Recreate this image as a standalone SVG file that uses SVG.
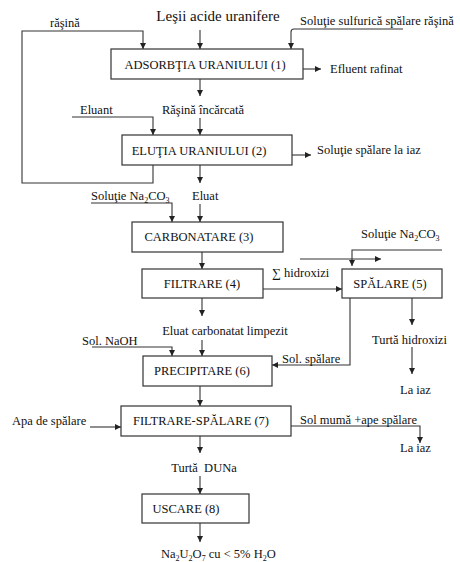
<svg xmlns="http://www.w3.org/2000/svg" width="460" height="562" viewBox="0 0 460 562">
<style>
text{font-family:"Liberation Serif","Times New Roman",serif;font-size:12.5px;fill:#111}
.t{font-size:15px}
.c{text-anchor:middle}
.box{fill:#fff;stroke:#333;stroke-width:1.2}
.ln{fill:none;stroke:#333;stroke-width:1.1;marker-end:url(#ah)}
.pl{fill:none;stroke:#333;stroke-width:1.1}
</style>
<defs>
<marker id="ah" viewBox="0 0 8 8" refX="8" refY="4" markerWidth="7" markerHeight="6" markerUnits="userSpaceOnUse" orient="auto">
<path d="M0,0 L8,4 L0,8 z" fill="#222"/>
</marker>
</defs>
<rect width="460" height="562" fill="#fff"/>
<g id="connectors">
<path class="ln" d="M200,30 V49"/>
<path class="ln" d="M153,165 V183 H22 V31 H143 V49"/>
<path class="ln" d="M403,29 H294 Q291,29 291,32 V49"/>
<path class="ln" d="M303,69 H321"/>
<path class="ln" d="M200,79 V96"/>
<path class="ln" d="M200,118 V135"/>
<path class="ln" d="M72,117 H153 V135"/>
<path class="ln" d="M292,155 H311"/>
<path class="ln" d="M200,165 V183"/>
<path class="ln" d="M91,203 H172 V222"/>
<path class="ln" d="M200,204 V222"/>
<path class="ln" d="M202,252 V269"/>
<path class="ln" d="M263,289 H342"/>
<path class="ln" d="M442,250 H352 V266"/>
<path class="ln" d="M300,259 H381"/>
<path class="ln" d="M202,298 V316"/>
<path class="ln" d="M202,340 V356"/>
<path class="ln" d="M92,347 H172 V356"/>
<path class="ln" d="M350,298 V365 H272"/>
<path class="ln" d="M412,298 V325"/>
<path class="ln" d="M412,347 V374"/>
<path class="ln" d="M200,386 V406"/>
<path class="ln" d="M90,427 H121"/>
<path class="ln" d="M291,426 H420 V443"/>
<path class="ln" d="M200,436 V453"/>
<path class="ln" d="M200,476 V494"/>
<path class="ln" d="M200,523 V542"/>
</g>
<g id="n1"><rect class="box" x="111" y="49" width="192" height="30"/><text class="c" x="205" y="69">ADSORBŢIA URANIULUI (1)</text></g>
<g id="n2"><rect class="box" x="122" y="135" width="170" height="30"/><text class="c" x="199" y="155">ELUŢIA URANIULUI (2)</text></g>
<g id="n3"><rect class="box" x="132" y="222" width="151" height="30"/><text class="c" x="199" y="241">CARBONATARE (3)</text></g>
<g id="n4"><rect class="box" x="142" y="269" width="121" height="29"/><text class="c" x="202" y="288">FILTRARE (4)</text></g>
<g id="n5"><rect class="box" x="342" y="269" width="100" height="29"/><text class="c" x="390" y="288">SPĂLARE (5)</text></g>
<g id="n6"><rect class="box" x="143" y="356" width="129" height="30"/><text class="c" x="202" y="375">PRECIPITARE (6)</text></g>
<g id="n7"><rect class="box" x="121" y="406" width="170" height="30"/><text class="c" x="201" y="425">FILTRARE-SPĂLARE (7)</text></g>
<g id="n8"><rect class="box" x="142" y="494" width="107" height="29"/><text class="c" x="186" y="513">USCARE (8)</text></g>
<g id="labels">
<text class="t c" x="218" y="21">Leşii acide uranifere</text>
<text x="50" y="27">răşină</text>
<text x="300" y="25">Soluţie sulfurică spălare răşină</text>
<text x="330" y="73">Efluent rafinat</text>
<text class="c" x="203" y="114">Răşină încărcată</text>
<text x="80" y="114">Eluant</text>
<text x="317" y="154">Soluţie spălare la iaz</text>
<text x="91" y="200">Soluţie Na<tspan font-size="8" dy="3">2</tspan><tspan dy="-3">CO</tspan><tspan font-size="8" dy="3">3</tspan></text>
<text x="192" y="200">Eluat</text>
<text x="272" y="277">∑ hidroxizi</text>
<text x="361" y="238">Soluţie Na<tspan font-size="8" dy="3">2</tspan><tspan dy="-3">CO</tspan><tspan font-size="8" dy="3">3</tspan></text>
<text class="c" x="225" y="335">Eluat carbonatat limpezit</text>
<text x="82" y="345">Sol. NaOH</text>
<text x="372" y="344">Turtă hidroxizi</text>
<text x="282" y="363">Sol. spălare</text>
<text x="400" y="394">La iaz</text>
<text x="12" y="425">Apa de spălare</text>
<text x="300" y="424">Sol mumă +ape spălare</text>
<text x="400" y="452">La iaz</text>
<text class="c" x="204" y="472">Turtă&#160; DUNa</text>
<text x="161" y="558">Na<tspan font-size="8" dy="3">2</tspan><tspan dy="-3">U</tspan><tspan font-size="8" dy="3">2</tspan><tspan dy="-3">O</tspan><tspan font-size="8" dy="3">7</tspan><tspan dy="-3"> cu &lt; 5% H</tspan><tspan font-size="8" dy="3">2</tspan><tspan dy="-3">O</tspan></text>
</g>
</svg>
